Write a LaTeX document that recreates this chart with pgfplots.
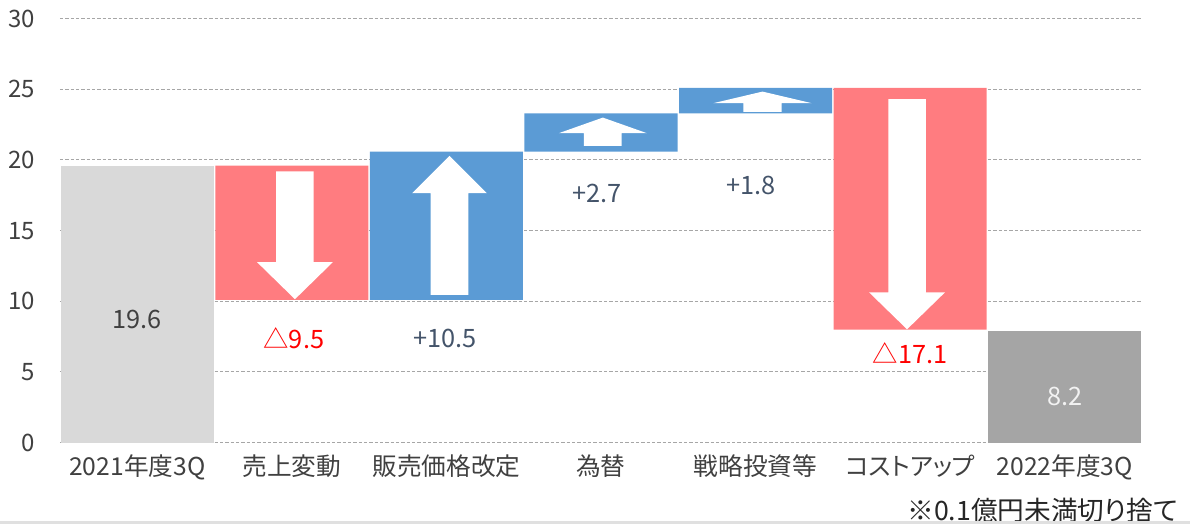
\documentclass[border=0pt]{standalone}
\usepackage{fontspec}
\setmainfont{Noto Sans CJK JP}[RawFeature=+palt]
\usepackage{pgfplots}
\pgfplotsset{compat=1.18}
\definecolor{grayA}{HTML}{D9D9D9}
\definecolor{grayB}{HTML}{A5A5A5}
\definecolor{redbar}{HTML}{FF7C80}
\definecolor{bluebar}{HTML}{5B9BD5}
\definecolor{gridgray}{HTML}{A6A6A6}
\definecolor{textgray}{HTML}{404040}
\definecolor{bluetext}{HTML}{44546A}
\begin{document}
\begin{tikzpicture}
\begin{axis}[
  at={(0,0)}, anchor=south west,
  scale only axis, width=811.5pt, height=318pt,
  xmin=-0.5, xmax=6.5, ymin=0, ymax=30,
  ybar stacked, bar width=0.99,
  ytick={0,5,...,30},
  xtick={0,...,6},
  xticklabels={2021年度3Q,売上変動,販売価格改定,為替,戦略投資等,コストアップ,2022年度3Q},
  ymajorgrids,
  grid style={color=gridgray, line width=0.75pt, dash pattern=on 2.4pt off 1.6pt},
  axis line style={draw=none},
  tick style={draw=none},
  major tick length=0pt,
  tick label style={font=\fontsize{18}{20}\selectfont, text=textgray},
  xticklabel style={font=\fontsize{18.5}{20}\selectfont},
  yticklabel style={anchor=east, inner sep=0pt, xshift=-18.75pt},
  xticklabel style={anchor=north, inner sep=0pt, yshift=-9pt},
  /pgf/number format/assume math mode=true,
]
\addplot[draw=none, fill=none, forget plot] coordinates {(0,0) (1,10.1) (2,10.1) (3,20.6) (4,23.3) (5,8.0) (6,0)};
\addplot[draw=none, fill=grayA] coordinates {(0,19.6) (1,0) (2,0) (3,0) (4,0) (5,0) (6,0)};
\addplot[draw=none, fill=redbar] coordinates {(0,0) (1,9.5) (2,0) (3,0) (4,0) (5,17.1) (6,0)};
\addplot[draw=none, fill=bluebar] coordinates {(0,0) (1,0) (2,10.5) (3,2.7) (4,1.8) (5,0) (6,0)};
\addplot[draw=none, fill=grayB] coordinates {(0,0) (1,0) (2,0) (3,0) (4,0) (5,0) (6,7.9)};
\end{axis}
\begin{axis}[
  at={(0,0)}, anchor=south west,
  scale only axis, width=811.5pt, height=318pt,
  xmin=-0.5, xmax=6.5, ymin=0, ymax=30,
  hide axis, clip=false,
]
\addplot[fill=white, draw=none] coordinates {(0.899,19.2) (1.141,19.2) (1.141,12.77) (1.265,12.77) (1.02,10.15) (0.775,12.77) (0.899,12.77)} --cycle;
\addplot[fill=white, draw=none] coordinates {(1.898,10.45) (2.142,10.45) (2.142,17.65) (2.262,17.65) (2.02,20.29) (1.778,17.65) (1.898,17.65)} --cycle;
\addplot[fill=white, draw=none] coordinates {(2.890,21.0) (3.134,21.0) (3.134,21.9) (3.296,21.9) (3.012,23.0) (2.728,21.9) (2.890,21.9)} --cycle;
\addplot[fill=white, draw=none] coordinates {(3.921,23.4) (4.169,23.4) (4.169,24.02) (4.363,24.02) (4.045,24.84) (3.727,24.02) (3.921,24.02)} --cycle;
\addplot[fill=white, draw=none] coordinates {(4.859,24.3) (5.101,24.3) (5.101,10.64) (5.226,10.64) (4.98,8.02) (4.734,10.64) (4.859,10.64)} --cycle;
\node[text=textgray, font=\fontsize{19}{21}\selectfont] at (axis cs:0.0,8.75) {19.6};
\node[text=red, font=\fontsize{19}{21}\selectfont] at (axis cs:1.013,7.4) {△9.5};
\node[text=bluetext, font=\fontsize{19}{21}\selectfont] at (axis cs:1.99,7.4) {+10.5};
\node[text=bluetext, font=\fontsize{19}{21}\selectfont] at (axis cs:2.977,17.65) {+2.7};
\node[text=bluetext, font=\fontsize{19}{21}\selectfont] at (axis cs:3.97,18.2) {+1.8};
\node[text=red, font=\fontsize{19}{21}\selectfont] at (axis cs:5.0,6.35) {△17.1};
\node[text=white!95!black, font=\fontsize{19}{21}\selectfont] at (axis cs:6.0,3.26) {8.2};
\end{axis}
\node[anchor=east, inner sep=0pt, text=black!85, font=\fontsize{20}{22}\selectfont] at (838.5pt,-50.5pt) {※0.1億円未満切り捨て};
\fill[black!12] (-45pt,-61pt) rectangle (847.5pt,-58.8pt);
\pgfresetboundingbox
\path (-45pt,-61pt) rectangle (847.5pt,332pt);
\end{tikzpicture}
\end{document}
